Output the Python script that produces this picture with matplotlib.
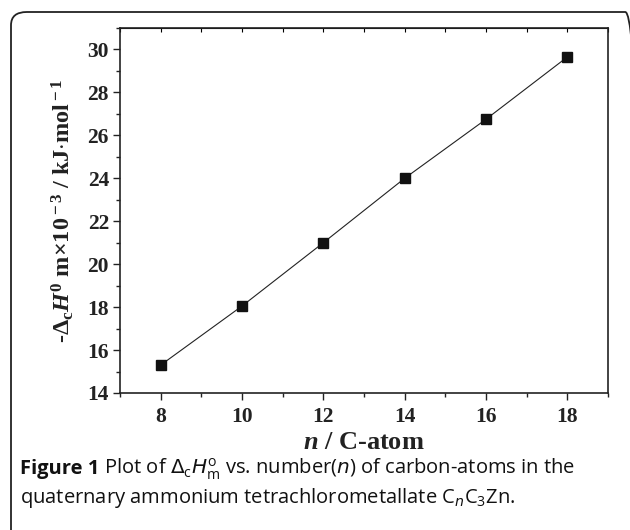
import matplotlib
matplotlib.use('Agg')
import matplotlib.pyplot as plt
from matplotlib.patches import FancyBboxPatch
from matplotlib.ticker import MultipleLocator

# data
n_atoms = [8, 10, 12, 14, 16, 18]
dH = [15.3, 18.05, 21.0, 24.0, 26.75, 29.65]

x_ticks = [8, 10, 12, 14, 16, 18]
y_ticks = [14, 16, 18, 20, 22, 24, 26, 28, 30]

plt.rcParams['mathtext.fontset'] = 'custom'
plt.rcParams['mathtext.rm'] = 'Liberation Serif:bold'
plt.rcParams['mathtext.it'] = 'Liberation Serif:bold:italic'
plt.rcParams['mathtext.bf'] = 'Liberation Serif:bold'

fig = plt.figure(figsize=(6.3, 5.3), dpi=100)

# outer rounded frame, runs off the right and bottom edges
frame = FancyBboxPatch((11/630, -0.1), 1.0, 1 - 12/530 + 0.1,
                       boxstyle='round,pad=0,rounding_size=0.025',
                       transform=fig.transFigure, fill=False,
                       edgecolor='#222222', linewidth=1.3, clip_on=False)
fig.patches.append(frame)

ax = fig.add_axes([120/630, 1 - 393/530, (608 - 120)/630, (393 - 28)/530])
ax.plot(n_atoms, dH, color='#222222', linewidth=0.8, marker='s',
        markersize=6.5, markerfacecolor='#111111', markeredgecolor='#111111')

ax.set_xlim(7, 19)
ax.set_ylim(14, 31)
ax.set_xticks(x_ticks)
ax.set_yticks(y_ticks)
ax.xaxis.set_minor_locator(MultipleLocator(1))
ax.yaxis.set_minor_locator(MultipleLocator(1))
ax.tick_params(which='both', direction='out', top=False, right=False,
               width=1, colors='#222222')
ax.tick_params(which='major', length=5)
ax.tick_params(which='minor', length=3)
for lab in ax.get_xticklabels() + ax.get_yticklabels():
    lab.set_fontfamily('Liberation Serif')
    lab.set_fontweight('bold')
    lab.set_fontsize(15.5)
    lab.set_color('#222222')
ax.tick_params(axis='x', pad=5)
ax.tick_params(axis='y', pad=3)

# small inward ticks along the top spine
top = ax.secondary_xaxis('top')
top.set_xticks(list(range(7, 20)))
top.tick_params(direction='in', length=3, width=0.8, labeltop=False)

for sp in ax.spines.values():
    sp.set_linewidth(1.2)
    sp.set_color('#222222')

ax.set_xlabel(r'$n$ / C-atom', fontfamily='Liberation Serif',
              fontweight='bold', fontsize=19, labelpad=3, color='#222222')
ax.set_ylabel(r'-$\Delta_{\rm c}H^{\rm 0}$ m$\times$10$^{\rm -3}$ / kJ$\cdot$mol$^{\rm -1}$',
              fontfamily='Liberation Serif', fontweight='bold', fontsize=17.5,
              labelpad=8, color='#222222')

# caption
cap_size = 14.5
y1 = 1 - 474/530
y2 = 1 - 503/530
cap1 = fig.text(20/630, y1, 'Figure 1', fontfamily='Open Sans',
                fontweight='bold', fontsize=cap_size, color='#111111',
                va='baseline')
fig.canvas.draw()
bb = cap1.get_window_extent()
x_rest = bb.x1 / fig.bbox.width
fig.text(x_rest, y1,
         r' Plot of $\Delta_\mathregular{c}H^\mathregular{o}_\mathregular{m}$ vs. number($n$) of carbon-atoms in the',
         fontfamily='Open Sans', fontsize=cap_size, color='#111111',
         math_fontfamily='dejavusans', va='baseline')
fig.text(20/630, y2,
         r'quaternary ammonium tetrachlorometallate C$_n$C$_\mathregular{3}$Zn.',
         fontfamily='Open Sans', fontsize=cap_size, color='#111111',
         math_fontfamily='dejavusans', va='baseline')

fig.savefig('out.png', dpi=100)
